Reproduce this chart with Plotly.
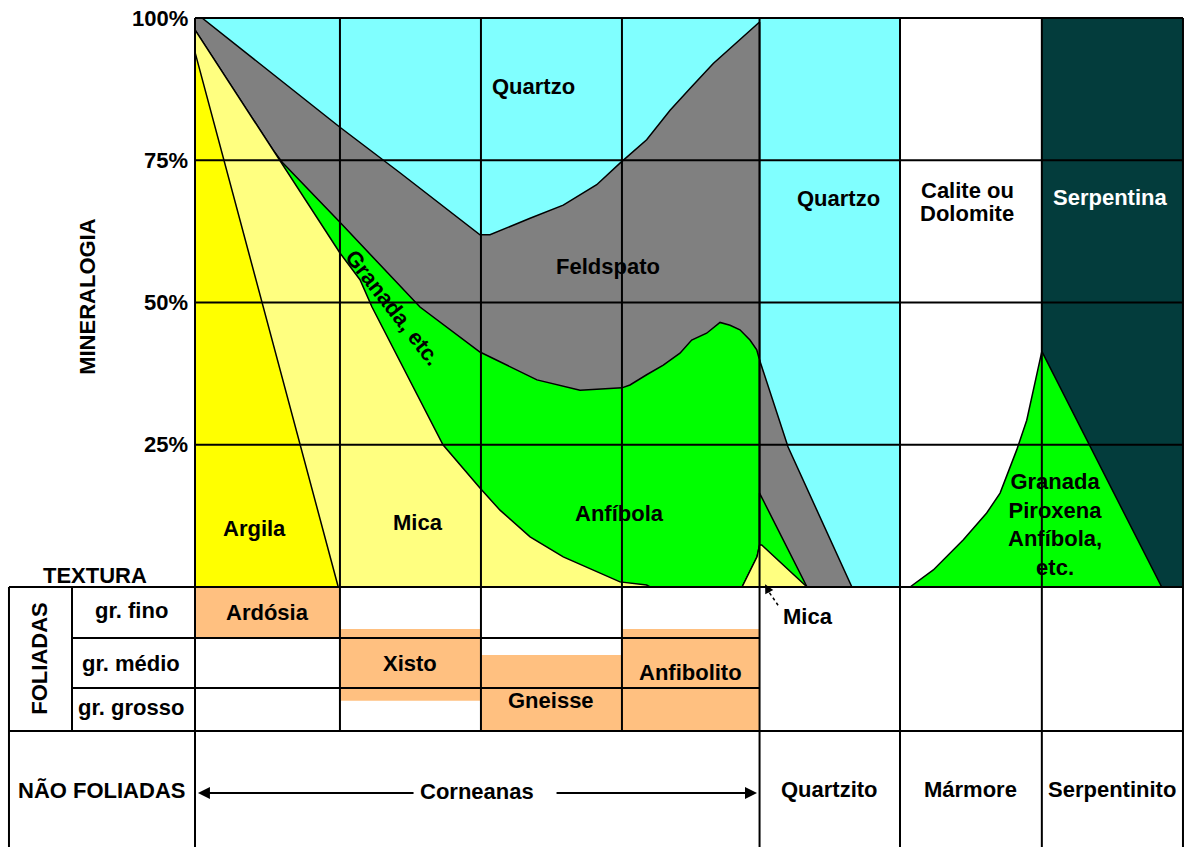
import plotly.graph_objects as go

# ---------------------------------------------------------------
# Mineralogy of metamorphic rocks (x: rock column units, y: % of rock)
# ---------------------------------------------------------------

# column edges: Corneanas spans 0..4, then Quartzito, Mármore, Serpentinito
col_edges = [0.0, 1.027, 2.026, 3.025, 4.0, 4.995, 6.0, 7.0]
pct_ticks = [25, 50, 75, 100]

# Corneanas sequence – upper edge of each mineral band
quartzo_base_x = [0.0, 0.05, 1.027, 1.452, 2.019, 2.090, 2.374, 2.609, 2.846, 3.011,
                  3.200, 3.366, 3.507, 3.672, 4.0]
quartzo_base_y = [100, 100, 80.8, 72.8, 61.9, 61.9, 64.8, 67.1, 70.7, 74.5,
                  78.6, 83.8, 87.6, 92.0, 99.3]

feldspato_base_x = [0.0, 0.553, 0.623, 1.027, 1.594, 2.019, 2.423, 2.728, 3.025,
                    3.082, 3.200, 3.318, 3.436, 3.519, 3.625, 3.720, 3.791, 3.861,
                    3.932, 3.980, 4.0]
feldspato_base_y = [97.9, 76.8, 74.5, 64.1, 49.2, 41.3, 36.4, 34.6, 35.0,
                    35.5, 37.3, 39.0, 41.1, 43.4, 44.6, 46.5, 46.0, 45.2,
                    43.4, 41.7, 39.9]

granada_base_x = [0.553, 1.027, 1.169, 1.254, 1.757, 2.019, 2.161, 2.374, 2.609,
                  2.869, 3.011, 3.200, 3.224]
granada_base_y = [76.8, 58.7, 54.0, 49.2, 25.0, 17.4, 13.5, 8.8, 5.3,
                  2.4, 0.9, 0.35, 0.0]

anfibola_edge_x = [4.0, 3.982, 3.876]
anfibola_edge_y = [7.4, 5.3, 0.0]

argila_top_x = [0.0, 1.015]
argila_top_y = [94.0, 0.0]

# Quartzito column (feldspar / garnet / mica wedges)
feldspato_q_x = [4.0, 4.071, 4.144, 4.202, 4.654]
feldspato_q_y = [39.9, 34.6, 29.3, 24.6, 0.0]
granada_q_x = [4.0, 4.336]
granada_q_y = [16.5, 0.0]
mica_q_x = [3.876, 3.982, 4.0, 4.015, 4.336]
mica_q_y = [0.0, 5.3, 7.4, 7.4, 0.0]

# Mármore / Serpentinito – garnet, pyroxene, amphibole field
granada_s_x = [5.066, 5.231, 5.444, 5.609, 5.704, 5.822, 5.893, 5.964, 6.0, 6.849]
granada_s_y = [0.0, 3.0, 8.3, 13.0, 16.5, 24.1, 29.3, 37.0, 41.4, 0.0]

# texture table (y below 0 = table rows)
texture_rows = ["gr. fino", "gr. médio", "gr. grosso"]
row_edges = [0.0, -8.96, -17.75, -25.3]
table_bottom = -45.7
label_left, label_split = -1.318, -0.8715

# foliated rocks: name, column, grain range (top, bottom)
foliated_rocks = ["Ardósia", "Xisto", "Gneisse", "Anfibolito"]
foliated_cols = [0, 1, 2, 3]
foliated_top = [0.0, -7.38, -11.95, -7.38]
foliated_bot = [-8.96, -20.0, -25.3, -25.3]

non_foliated = ["Quartzito", "Mármore", "Serpentinito"]

CYAN = "#80FFFF"
GRAY = "#808080"
GREEN = "#00FF00"
LYELLOW = "#FFFF80"
YELLOW = "#FFFF00"
TEAL = "#033C3C"
ORANGE = "#FFC080"

fig = go.Figure()


def poly(xs, ys, color, lw=1.5):
    xs = list(xs) + [xs[0]]
    ys = list(ys) + [ys[0]]
    fig.add_trace(go.Scatter(x=xs, y=ys, mode="lines", fill="toself",
                             fillcolor=color, line=dict(color="black", width=lw),
                             hoverinfo="skip", showlegend=False))


# background column fills
shapes = []
shapes.append(dict(type="rect", xref="x", yref="y", x0=col_edges[0], x1=col_edges[5],
                   y0=0, y1=100, fillcolor=CYAN, line=dict(width=0), layer="below"))
shapes.append(dict(type="rect", xref="x", yref="y", x0=col_edges[6], x1=col_edges[7],
                   y0=0, y1=100, fillcolor=TEAL, line=dict(width=0), layer="below"))

# Corneanas bands, painted bottom-most last
poly(quartzo_base_x + [4.0, 0.0], quartzo_base_y + [0.0, 0.0], GRAY)
poly(feldspato_base_x + anfibola_edge_x + [0.0],
     feldspato_base_y + anfibola_edge_y + [0.0], GREEN)
poly(feldspato_base_x[:2] + granada_base_x[1:] + [0.0],
     feldspato_base_y[:2] + granada_base_y[1:] + [0.0], LYELLOW)
poly(argila_top_x + [0.0], argila_top_y + [0.0], YELLOW)

# Quartzito wedges
poly(feldspato_q_x + [4.0], feldspato_q_y + [0.0], GRAY)
poly(granada_q_x + [4.0], granada_q_y + [0.0], GREEN)
poly(mica_q_x, mica_q_y, LYELLOW)

# Mármore / Serpentinito silicates
poly(granada_s_x, granada_s_y, GREEN)

# foliated rock cells
for c, t, b in zip(foliated_cols, foliated_top, foliated_bot):
    shapes.append(dict(type="rect", xref="x", yref="y", x0=col_edges[c], x1=col_edges[c + 1],
                       y0=b, y1=t, fillcolor=ORANGE, line=dict(width=0), layer="below"))


def hline(y, x0, x1, w=2):
    shapes.append(dict(type="line", xref="x", yref="y", x0=x0, x1=x1, y0=y, y1=y,
                       line=dict(color="black", width=w), layer="above"))


def vline(x, y0, y1, w=2):
    shapes.append(dict(type="line", xref="x", yref="y", x0=x, x1=x, y0=y0, y1=y1,
                       line=dict(color="black", width=w), layer="above"))


# chart grid
for p in pct_ticks:
    hline(p, col_edges[0], col_edges[-1])
for i, cx in enumerate(col_edges):
    bottom = row_edges[-1] if i in (1, 2, 3) else table_bottom
    vline(cx, 100, bottom)

# table grid
hline(0, label_left, col_edges[-1])
hline(row_edges[1], label_split, col_edges[4])
hline(row_edges[2], label_split, col_edges[4])
hline(row_edges[3], label_left, col_edges[-1])
vline(label_left, 0, table_bottom)
vline(label_split, 0, row_edges[3])

# dotted shaft of the mica pointer
shapes.append(dict(type="line", xref="x", yref="y", x0=4.131, y0=-3.2, x1=4.07, y1=-1.0,
                   line=dict(color="black", width=1.5, dash="dot"), layer="above"))

fig.update_layout(shapes=shapes)

FONT = "Liberation Sans, Arial, sans-serif"
annotations = []


def lab(x, y, text, size=22, color="black", angle=0, xanchor="center", **kw):
    annotations.append(dict(x=x, y=y, xref="x", yref="y", text="<b>" + text + "</b>",
                            showarrow=False, textangle=angle, xanchor=xanchor,
                            yanchor="middle",
                            font=dict(family=FONT, size=size, color=color), **kw))


# axis labels
for p in pct_ticks:
    lab(-0.035, p, f"{p}%", xanchor="right")
lab(-0.758, 51.0, "MINERALOGIA", angle=-90)
lab(-0.709, 2.1, "TEXTURA")

# mineral labels
lab(2.395, 88.0, "Quartzo")
lab(2.926, 56.4, "Feldspato")
lab(1.403, 49.2, "Granada, etc.", angle=52)
lab(0.425, 10.2, "Argila")
lab(1.58, 11.4, "Mica")
lab(3.011, 13.0, "Anfíbola")
lab(4.556, 68.2, "Quartzo")
lab(5.47, 69.6, "Calite ou")
lab(5.47, 65.6, "Dolomite")
lab(6.483, 68.4, "Serpentina", color="white")
lab(6.093, 10.9, "Granada<br>Piroxena<br>Anfíbola,<br>etc.")

# texture table labels
lab(-1.098, -12.6, "FOLIADAS", angle=-90)
texture_label_y = [-4.2, -13.4, -21.1]
for name, ly in zip(texture_rows, texture_label_y):
    lab(-0.45, ly, name)
lab(-0.659, -35.7, "NÃO FOLIADAS")

foliated_label_y = [-4.4, -13.4, -19.9, -15.1]
for name, c, ly in zip(foliated_rocks, foliated_cols, foliated_label_y):
    lab((col_edges[c] + col_edges[c + 1]) / 2, ly, name)

lab(1.998, -36.0, "Corneanas")
for i, name in enumerate(non_foliated):
    lab((col_edges[4 + i] + col_edges[5 + i]) / 2, -35.6, name)

# Corneanas range arrows
for head, tail in ((0.021, 1.559), (3.982, 2.551)):
    annotations.append(dict(x=head, y=-36.2, ax=tail, ay=-36.2, xref="x", yref="y",
                            axref="x", ayref="y", text="", showarrow=True,
                            arrowhead=2, arrowsize=1.2, arrowwidth=2, arrowcolor="black",
                            standoff=0))

# mica pointer in the Quartzito column
lab(4.343, -5.1, "Mica", xanchor="center")
annotations.append(dict(x=4.039, y=0.5, ax=4.075, ay=-1.2, xref="x", yref="y",
                        axref="x", ayref="y", text="", showarrow=True,
                        arrowhead=2, arrowsize=1.2, arrowwidth=1.5, arrowcolor="black",
                        standoff=0))

fig.update_layout(
    annotations=annotations,
    width=1184, height=847,
    margin=dict(l=0, r=0, t=0, b=0),
    paper_bgcolor="white", plot_bgcolor="white",
    xaxis=dict(range=[-1.3816, 7.0072], visible=False, fixedrange=True),
    yaxis=dict(range=[-45.694, 103.163], visible=False, fixedrange=True),
    showlegend=False,
)

fig.write_html("out.html")
